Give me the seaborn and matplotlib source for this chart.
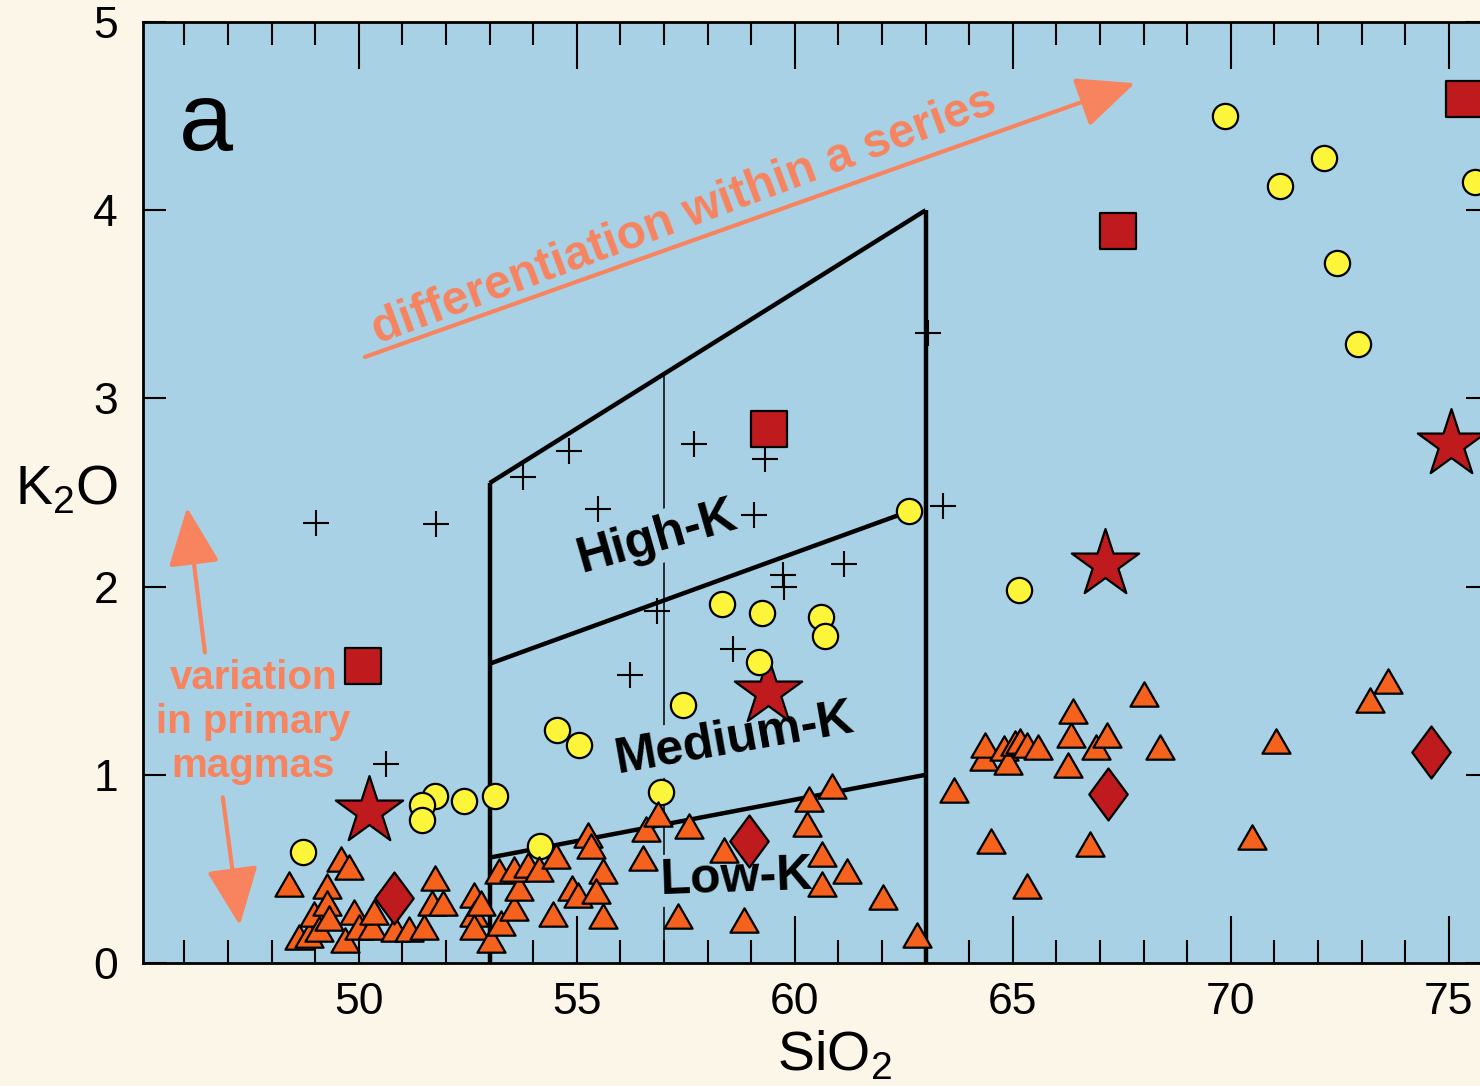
import matplotlib
matplotlib.use("Agg")
import matplotlib.pyplot as plt
from matplotlib.path import Path
from matplotlib.markers import MarkerStyle
from matplotlib.patches import ArrowStyle
from matplotlib.ticker import MultipleLocator
import seaborn as sns

# ---------------------------------------------------------------------------
# Whole-rock analyses, SiO2 vs K2O (wt%)
# ---------------------------------------------------------------------------
tri_sio2 = [48.40, 48.63, 48.86, 48.97, 49.08, 49.27, 49.27, 49.31, 49.58, 49.77,
            49.88, 49.68, 50.00, 50.30, 50.35, 50.82, 51.14, 51.49, 51.74, 51.67,
            51.94, 52.65, 52.65, 52.63, 52.81, 53.04, 53.27, 53.57, 53.68, 53.22,
            53.57, 53.89, 54.14, 54.53, 54.46, 54.90, 55.03, 55.26, 55.33, 55.60,
            55.45, 55.60, 56.52, 56.59, 56.86, 57.57, 57.32, 58.37, 58.83, 60.29,
            60.32, 60.86, 60.63, 60.63, 61.20, 62.03, 62.81, 63.65, 64.33, 64.35,
            64.80, 64.89, 65.05, 65.16, 65.33, 65.57, 66.26, 66.33, 66.37, 66.90,
            67.15, 68.00, 68.37, 64.50, 66.78, 65.33, 70.49, 71.04, 73.18, 73.60]
tri_k2o = [0.42, 0.14, 0.15, 0.26, 0.18, 0.41, 0.32, 0.24, 0.55, 0.51,
           0.27, 0.12, 0.19, 0.19, 0.27, 0.18, 0.18, 0.19, 0.45, 0.32,
           0.32, 0.36, 0.26, 0.19, 0.32, 0.12, 0.21, 0.29, 0.40, 0.49,
           0.50, 0.52, 0.50, 0.57, 0.26, 0.40, 0.36, 0.68, 0.62, 0.49,
           0.38, 0.25, 0.56, 0.71, 0.79, 0.73, 0.25, 0.60, 0.23, 0.74,
           0.87, 0.94, 0.58, 0.42, 0.49, 0.35, 0.15, 0.92, 1.09, 1.16,
           1.14, 1.07, 1.17, 1.18, 1.16, 1.15, 1.05, 1.21, 1.34, 1.15,
           1.21, 1.43, 1.15, 0.65, 0.63, 0.41, 0.67, 1.18, 1.40, 1.50]

circ_sio2 = [69.87, 71.13, 72.13, 72.43, 72.92, 75.60, 62.62, 65.14, 58.33, 59.24,
             60.61, 60.68, 59.17, 57.43, 54.55, 55.05, 56.93, 53.13, 52.42, 51.74,
             51.46, 51.46, 54.16, 48.72]
circ_k2o = [4.50, 4.13, 4.28, 3.72, 3.29, 4.15, 2.40, 1.98, 1.91, 1.86,
            1.84, 1.74, 1.60, 1.37, 1.24, 1.16, 0.91, 0.89, 0.86, 0.89,
            0.84, 0.76, 0.62, 0.59]

cross_sio2 = [49.02, 51.78, 53.77, 54.83, 55.49, 57.69, 59.31, 59.06, 59.72, 59.75,
              61.12, 56.84, 58.58, 56.22, 63.40, 63.06, 50.62]
cross_k2o = [2.34, 2.33, 2.58, 2.72, 2.41, 2.76, 2.68, 2.38, 2.06, 2.00,
             2.12, 1.87, 1.67, 1.53, 2.43, 3.35, 1.06]

square_sio2 = [75.34, 67.40, 59.40, 50.09]
square_k2o = [4.59, 3.89, 2.84, 1.58]

star_sio2 = [75.05, 67.12, 59.38, 50.23]
star_k2o = [2.76, 2.12, 1.44, 0.81]

diamond_sio2 = [74.60, 67.19, 58.94, 50.80]
diamond_k2o = [1.12, 0.90, 0.65, 0.345]

# Series boundaries
field_top_x, field_top_y = [53, 63], [2.55, 4.0]
field_left_x, field_left_y = [53, 53], [0, 2.55]
field_right_x, field_right_y = [63, 63], [0, 4.0]
high_med_x, high_med_y = [53, 62.62], [1.59, 2.40]
med_low_x, med_low_y = [53, 63], [0.56, 1.00]
divider_x, divider_y = [57, 57], [0, 3.13]

x_ticks = [50, 55, 60, 65, 70, 75]
y_ticks = [0, 1, 2, 3, 4, 5]

# ---------------------------------------------------------------------------
BG = "#FCF6E9"
PANEL = "#A9D1E5"
YELLOW = "#FCF53A"
ORANGE = "#F4621E"
DARKRED = "#BF1B1F"
SALMON = "#F7845F"

sns.set_style("ticks")
plt.rcParams["font.family"] = ["Liberation Sans", "DejaVu Sans"]
plt.rcParams["mathtext.fontset"] = "custom"
plt.rcParams["mathtext.rm"] = "Liberation Sans"
for key in ["text.color", "axes.labelcolor", "xtick.color", "ytick.color",
            "xtick.labelcolor", "ytick.labelcolor"]:
    plt.rcParams[key] = "black"

W, H = 1480, 1086
fig = plt.figure(figsize=(W / 100, H / 100), dpi=100, facecolor=BG)
ax = fig.add_axes([143 / W, 123 / H, (1489 - 143) / W, 941 / H])
ax.set_facecolor(PANEL)
ax.set_xlim(45.05, 75.92)
ax.set_ylim(0, 5)

# boundary lines
for bx, by in [(field_top_x, field_top_y), (field_left_x, field_left_y),
               (field_right_x, field_right_y), (high_med_x, high_med_y),
               (med_low_x, med_low_y)]:
    ax.plot(bx, by, color="black", lw=3.2, solid_capstyle="butt", zorder=1.5)
ax.plot(divider_x, divider_y, color="black", lw=1.1, zorder=1.4)

# markers
tri_marker = MarkerStyle(Path([(0, 0.433), (-0.5, -0.433), (0.5, -0.433), (0, 0.433)],
                              [Path.MOVETO, Path.LINETO, Path.LINETO, Path.CLOSEPOLY]))
dia_marker = MarkerStyle(Path([(0, 0.5), (0.37, 0), (0, -0.5), (-0.37, 0), (0, 0.5)],
                              [Path.MOVETO, Path.LINETO, Path.LINETO, Path.LINETO,
                               Path.CLOSEPOLY]))

sns.scatterplot(x=star_sio2, y=star_k2o, ax=ax, marker="*", s=2600, color=DARKRED,
                edgecolor="black", linewidth=1.6, zorder=3)
sns.scatterplot(x=square_sio2, y=square_k2o, ax=ax, marker="s", s=640, color=DARKRED,
                edgecolor="black", linewidth=1.6, zorder=3.1)
sns.scatterplot(x=cross_sio2, y=cross_k2o, ax=ax, marker="+", s=330, color="black",
                linewidth=1.5, zorder=3.2)
sns.scatterplot(x=circ_sio2, y=circ_k2o, ax=ax, marker="o", s=330, color=YELLOW,
                edgecolor="black", linewidth=1.6, zorder=3.3)
sns.scatterplot(x=tri_sio2, y=tri_k2o, ax=ax, marker=tri_marker, s=410, color=ORANGE,
                edgecolor="black", linewidth=1.6, zorder=3.4)
sns.scatterplot(x=diamond_sio2, y=diamond_k2o, ax=ax, marker=dia_marker, s=1400,
                color=DARKRED, edgecolor="black", linewidth=1.6, zorder=3.5)

# field names
field_box = dict(facecolor=PANEL, edgecolor="none", pad=2)
ax.text(56.83, 2.26, "High-K", fontsize=36, fontweight="bold", rotation=16,
        ha="center", va="center", rotation_mode="anchor", bbox=field_box, zorder=2)
ax.text(58.62, 1.19, "Medium-K", fontsize=36, fontweight="bold", rotation=10,
        ha="center", va="center", rotation_mode="anchor", bbox=field_box, zorder=2)
ax.text(58.67, 0.45, "Low-K", fontsize=36, fontweight="bold", rotation=2,
        ha="center", va="center", rotation_mode="anchor", bbox=field_box, zorder=2)

# panel letter
ax.text(46.49, 4.32, "a", fontsize=70, ha="center", va="baseline", zorder=4)

# trend arrows and notes
head = ArrowStyle("-|>", head_length=3.6, head_width=1.6)
for tail, tip in [((50.14, 3.22), (67.80, 4.675)),
                  ((46.47, 1.65), (46.06, 2.42)),
                  ((46.88, 0.88), (47.27, 0.20))]:
    ax.annotate("", xy=tip, xytext=tail,
                arrowprops=dict(arrowstyle=head, mutation_scale=10, color=SALMON,
                                lw=3, shrinkA=0, shrinkB=0), zorder=4)

ax.text(57.45, 3.97, "differentiation within a series", fontsize=34.5, fontweight="bold",
        color=SALMON, rotation=20.5, ha="center", va="center", rotation_mode="anchor",
        zorder=4)
ax.text(47.58, 1.28, "variation\nin primary\nmagmas", fontsize=29, fontweight="bold",
        color=SALMON, ha="center", va="center", multialignment="center",
        linespacing=1.2, zorder=4)

# axes styling
for side in ["left", "right", "top", "bottom"]:
    ax.spines[side].set_visible(True)
    ax.spines[side].set_linewidth(2)
    ax.spines[side].set_color("black")

ax.set_xticks(x_ticks)
ax.set_yticks(y_ticks)
ax.xaxis.set_minor_locator(MultipleLocator(1))
ax.tick_params(axis="x", which="major", direction="in", length=34, width=1.5,
               top=True, bottom=True, labelsize=32, pad=14, color="black")
ax.tick_params(axis="x", which="minor", direction="in", length=16.5, width=1.5,
               top=True, bottom=True, color="black")
ax.tick_params(axis="y", which="major", direction="in", length=16.5, width=1.5,
               left=True, right=True, labelsize=32, pad=18, color="black")

ax.set_xlabel(r"SiO$_\mathregular{2}$", fontsize=40, va="center")
ax.xaxis.set_label_coords(0.514, -0.098)
ax.set_ylabel(r"K$_\mathregular{2}$O", fontsize=40, rotation=0, ha="center", va="center")
ax.yaxis.set_label_coords(-0.057, 0.5025)

fig.savefig("out.png", dpi=100, facecolor=BG)
